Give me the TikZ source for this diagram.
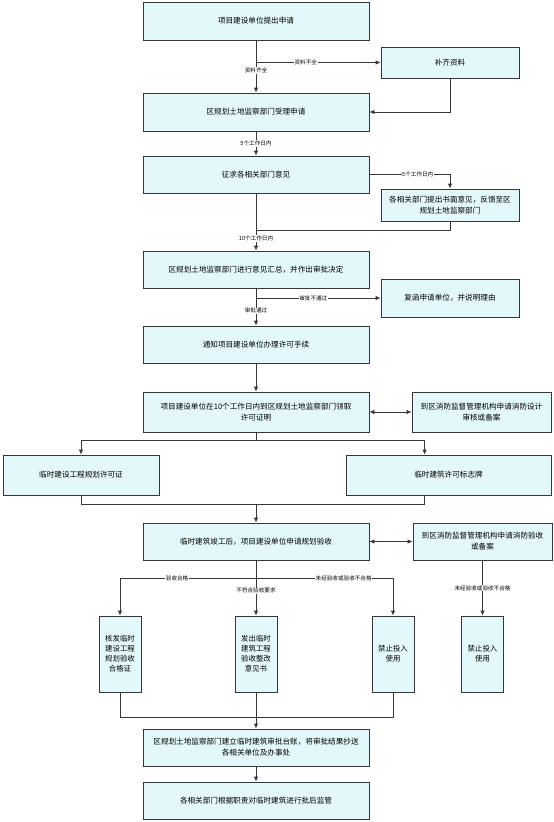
\documentclass[tikz,border=0pt]{standalone}
\usepackage{fontspec}
\setmainfont{Noto Sans CJK SC}
\XeTeXlinebreaklocale "zh"
\usetikzlibrary{arrows.meta}
\definecolor{boxfill}{RGB}{226,248,250}
\definecolor{boxline}{RGB}{55,55,55}
\begin{document}
\begin{tikzpicture}[x=1pt,y=-1pt,
  box/.style={draw=boxline, line width=0.8pt, fill=boxfill, inner sep=2pt, align=center, font=\fontsize{7.6}{11}\selectfont},
  mainbox/.style={box, minimum width=226pt, minimum height=37pt},
  sidebox/.style={box, minimum width=138pt},
  smallbox/.style={box, minimum width=42pt, minimum height=76pt, font=\fontsize{7.4}{10}\selectfont},
  lab/.style={fill=white, inner sep=0.6pt, font=\fontsize{5.6}{6}\selectfont},
  ln/.style={draw=boxline, line width=0.8pt},
  arr/.style={ln, -{Latex[length=5pt,width=4.5pt]}},
  darr/.style={ln, {Latex[length=5pt,width=4.5pt]}-{Latex[length=5pt,width=4.5pt]}}]
\useasboundingbox (0,0) rectangle (554,822);
% main column
\node[mainbox, minimum height=38pt] (b1) at (256,21) {项目建设单位提出申请};
\node[sidebox, minimum height=31pt] (bq) at (450,62.5) {补齐资料};
\node[mainbox, minimum height=38pt] (b2) at (256,112) {区规划土地监察部门受理申请};
\node[mainbox] (b3) at (256,174.5) {征求各相关部门意见};
\node[sidebox, minimum height=32pt] (b4) at (450,205) {各相关部门提出书面意见，反馈至区\\规划土地监察部门};
\node[mainbox] (b5) at (256,269.5) {区规划土地监察部门进行意见汇总，并作出审批决定};
\node[sidebox, minimum height=38pt] (bf) at (450,298) {复函申请单位，并说明理由};
\node[mainbox] (b6) at (256,344.5) {通知项目建设单位办理许可手续};
\node[mainbox, minimum height=40pt] (b7) at (256,412) {项目建设单位在10个工作日内到区规划土地监察部门领取\\许可证明};
\node[box, minimum width=139pt, minimum height=40pt] (b8) at (481.5,412) {到区消防监督管理机构申请消防设计\\审核或备案};
\node[box, minimum width=156pt, minimum height=40pt] (b9) at (81,475) {临时建设工程规划许可证};
\node[box, minimum width=205pt, minimum height=40pt] (b10) at (448.5,475) {临时建筑许可标志牌};
\node[mainbox] (b11) at (256,541.5) {临时建筑竣工后，项目建设单位申请规划验收};
\node[box, minimum width=139pt, minimum height=37pt] (b12) at (482.5,541.5) {到区消防监督管理机构申请消防验收\\或备案};
\node[smallbox] (s1) at (120,654) {核发临时\\建设工程\\规划验收\\合格证};
\node[smallbox] (s2) at (256,654) {发出临时\\建筑工程\\验收整改\\意见书};
\node[smallbox] (s3) at (393,654) {禁止投入\\使用};
\node[smallbox] (s4) at (482.5,654) {禁止投入\\使用};
\node[mainbox] (b17) at (256,747.5) {区规划土地监察部门建立临时建筑审批台账，将审批结果抄送\\各相关单位及办事处};
\node[mainbox] (b18) at (256,800.5) {各相关部门根据职责对临时建筑进行批后监管};
% helper coordinates
\coordinate (j2) at (256,230);
\coordinate (j3) at (256,440);
\coordinate (j4) at (256,504);
\coordinate (j5) at (256,578);
\coordinate (j6) at (256,717);
\coordinate (c10n) at ([xshift=79pt]b10.north west);
\coordinate (c10s) at ([xshift=79pt]b10.south west);
% connectors
\draw[arr] (b1) -- node[lab, pos=0.58]{资料齐全} (b2);
\draw[arr] (b1.south |- bq.west) -- node[lab, pos=0.4]{资料不全} (bq.west);
\draw[arr] (bq.south) |- (b2.east);
\draw[arr] (b2) -- node[lab]{5个工作日内} (b3);
\draw[arr] (b3.east) -| node[lab, pos=0.3]{5个工作日内} (b4.north);
\draw[ln] (b4.south) |- (j2);
\draw[arr] (b3) -- node[lab, pos=0.79]{10个工作日内} (b5);
\draw[arr] (b5) -- node[lab, pos=0.6]{审批通过} (b6);
\draw[arr] (b5.south |- bf.west) -- node[lab, pos=0.46]{审批不通过} (bf.west);
\draw[arr] (b6) -- (b7);
\draw[darr] (b7) -- (b8);
\draw[ln] (b7) -- (j3);
\draw[arr] (j3) -| (b9.north);
\draw[arr] (j3) -| (c10n);
\draw[ln] (b9.south) |- (j4);
\draw[ln] (c10s) |- (j4);
\draw[arr] (j4) -- (b11);
\draw[darr] (b11) -- (b12);
\draw[arr] (b11) -- node[lab, pos=0.55]{不符合验收要求} (s2);
\draw[arr] (j5) -| node[lab, pos=0.29]{验收合格} (s1.north);
\draw[arr] (j5) -| node[lab, pos=0.32]{未经验收或验收不合格} (s3.north);
\draw[arr] (b12) -- node[lab]{未经验收或验收不合格} (s4);
\draw[ln] (s1.south) |- (j6);
\draw[ln] (s3.south) |- (j6);
\draw[arr] (s2) -- (b17);
\draw[arr] (b17) -- (b18);
\end{tikzpicture}
\end{document}
